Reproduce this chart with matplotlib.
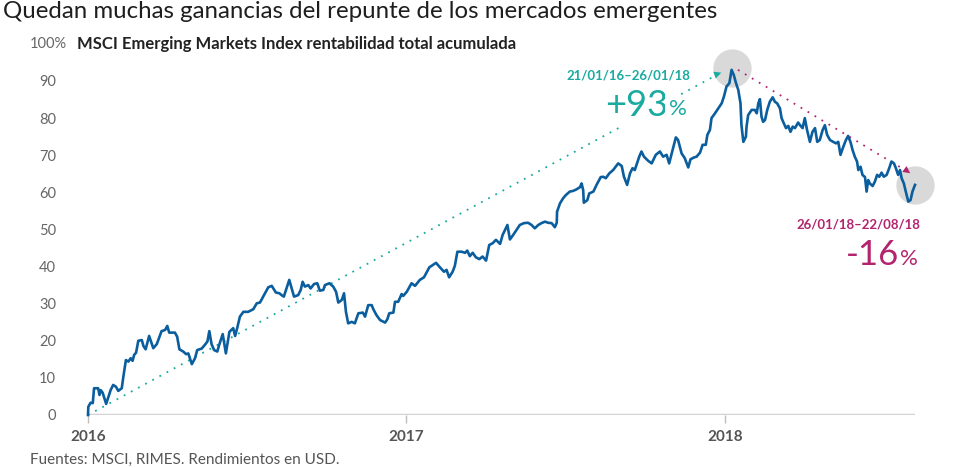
import matplotlib
matplotlib.use('Agg')
import matplotlib.pyplot as plt

plt.rcParams['font.family'] = ['Lato', 'DejaVu Sans']

# MSCI EM cumulative total return (%), x in decimal years
years = [2016.055, 2016.056, 2016.063, 2016.070, 2016.074, 2016.087, 2016.091, 2016.095, 2016.101, 2016.112,
         2016.126, 2016.134, 2016.143, 2016.150, 2016.161, 2016.166, 2016.174, 2016.182, 2016.189, 2016.195,
         2016.200, 2016.206, 2016.213, 2016.224, 2016.229, 2016.236, 2016.247, 2016.253, 2016.260, 2016.271,
         2016.286, 2016.297, 2016.304, 2016.310, 2016.328, 2016.335, 2016.342, 2016.354, 2016.363, 2016.370,
         2016.381, 2016.391, 2016.398, 2016.412, 2016.422, 2016.430, 2016.436, 2016.443, 2016.451, 2016.461,
         2016.467, 2016.478, 2016.488, 2016.499, 2016.511, 2016.517, 2016.524, 2016.532, 2016.543, 2016.558,
         2016.574, 2016.585, 2016.595, 2016.611, 2016.621, 2016.632, 2016.645, 2016.656, 2016.663, 2016.670,
         2016.687, 2016.702, 2016.715, 2016.723, 2016.729, 2016.736, 2016.747, 2016.754, 2016.765, 2016.775,
         2016.783, 2016.794, 2016.799, 2016.813, 2016.825, 2016.834, 2016.841, 2016.852, 2016.859, 2016.865,
         2016.872, 2016.883, 2016.893, 2016.904, 2016.918, 2016.925, 2016.935, 2016.946, 2016.951, 2016.961,
         2016.972, 2016.988, 2016.995, 2017.001, 2017.014, 2017.019, 2017.029, 2017.040, 2017.045, 2017.056,
         2017.071, 2017.082, 2017.097, 2017.110, 2017.127, 2017.134, 2017.148, 2017.160, 2017.173, 2017.181,
         2017.189, 2017.200, 2017.207, 2017.215, 2017.228, 2017.239, 2017.246, 2017.254, 2017.263, 2017.273,
         2017.284, 2017.294, 2017.305, 2017.315, 2017.326, 2017.336, 2017.349, 2017.357, 2017.372, 2017.380,
         2017.390, 2017.401, 2017.411, 2017.424, 2017.437, 2017.448, 2017.458, 2017.469, 2017.479, 2017.490,
         2017.500, 2017.511, 2017.521, 2017.527, 2017.528, 2017.537, 2017.547, 2017.556, 2017.568, 2017.579,
         2017.589, 2017.600, 2017.605, 2017.610, 2017.612, 2017.623, 2017.629, 2017.642, 2017.652, 2017.665,
         2017.673, 2017.681, 2017.692, 2017.704, 2017.720, 2017.731, 2017.738, 2017.748, 2017.757, 2017.765,
         2017.772, 2017.786, 2017.793, 2017.801, 2017.814, 2017.825, 2017.838, 2017.851, 2017.861, 2017.872,
         2017.880, 2017.888, 2017.901, 2017.908, 2017.919, 2017.929, 2017.940, 2017.947, 2017.958, 2017.966,
         2017.977, 2017.985, 2017.995, 2018.000, 2018.008, 2018.013, 2018.024, 2018.034, 2018.045, 2018.052,
         2018.060, 2018.069, 2018.076, 2018.083, 2018.090, 2018.097, 2018.104, 2018.107, 2018.113, 2018.121,
         2018.123, 2018.128, 2018.139, 2018.149, 2018.155, 2018.160, 2018.165, 2018.170, 2018.175, 2018.181,
         2018.188, 2018.196, 2018.205, 2018.212, 2018.219, 2018.228, 2018.233, 2018.240, 2018.247, 2018.254,
         2018.261, 2018.268, 2018.275, 2018.285, 2018.291, 2018.299, 2018.306, 2018.313, 2018.322, 2018.330,
         2018.338, 2018.345, 2018.353, 2018.362, 2018.369, 2018.376, 2018.385, 2018.395, 2018.404, 2018.411,
         2018.418, 2018.427, 2018.435, 2018.442, 2018.450, 2018.456, 2018.463, 2018.470, 2018.474, 2018.481,
         2018.487, 2018.495, 2018.500, 2018.505, 2018.510, 2018.519, 2018.526, 2018.533, 2018.540, 2018.547,
         2018.554, 2018.563, 2018.571, 2018.578, 2018.586, 2018.592, 2018.599, 2018.605, 2018.610, 2018.617,
         2018.623, 2018.631, 2018.638, 2018.644, 2018.652]
values = [0.0, 2.2, 3.3, 3.2, 7.2, 7.2, 5.4, 6.7, 6.0, 3.0,
          6.7, 8.1, 7.6, 6.5, 7.2, 10.3, 14.8, 14.4, 15.3, 14.6,
          16.2, 16.8, 20.0, 20.2, 18.6, 17.7, 21.3, 19.8, 18.0, 19.1,
          22.6, 22.9, 24.0, 22.2, 22.2, 21.1, 17.7, 17.1, 16.4, 16.6,
          13.7, 15.3, 17.5, 17.9, 18.9, 19.8, 22.6, 19.1, 17.5, 17.1,
          18.9, 21.8, 16.6, 22.4, 23.4, 21.3, 23.6, 26.5, 27.8, 27.8,
          28.5, 30.1, 30.3, 32.8, 34.4, 34.8, 33.0, 32.8, 32.3, 31.9,
          36.4, 31.9, 32.3, 33.7, 35.9, 34.6, 35.0, 34.1, 35.3, 35.5,
          33.5, 33.7, 35.0, 35.5, 34.6, 33.2, 30.3, 31.0, 32.8, 27.8,
          24.7, 25.1, 24.7, 27.4, 27.6, 26.5, 29.6, 29.6, 28.5, 26.9,
          25.6, 24.9, 25.8, 27.4, 27.6, 30.5, 30.5, 32.6, 32.1, 33.2,
          35.5, 34.8, 36.4, 37.1, 39.8, 40.2, 41.0, 39.8, 38.6, 39.1,
          37.1, 38.6, 40.2, 44.0, 44.0, 43.7, 44.3, 42.8, 43.7, 42.5,
          42.0, 42.7, 41.6, 45.8, 46.3, 47.2, 46.1, 48.5, 51.2, 47.3,
          48.5, 49.9, 51.2, 51.7, 51.8, 51.2, 50.3, 51.2, 51.7, 52.1,
          51.8, 51.7, 50.6, 51.8, 54.8, 57.0, 58.4, 59.3, 60.2, 60.4,
          60.8, 61.4, 62.4, 60.6, 57.2, 57.9, 59.7, 60.2, 62.0, 64.1,
          64.2, 63.8, 65.1, 66.0, 67.8, 67.1, 64.2, 62.0, 65.1, 66.5,
          66.0, 69.6, 71.0, 69.6, 68.5, 67.8, 70.1, 71.0, 69.6, 70.1,
          67.8, 70.5, 74.8, 74.1, 70.5, 69.2, 66.7, 68.9, 69.4, 69.6,
          70.7, 72.8, 72.8, 75.5, 76.8, 80.0, 81.3, 82.6, 84.0, 85.8,
          88.5, 89.4, 93.0, 91.6, 89.4, 87.6, 84.0, 78.1, 73.6, 75.0,
          77.7, 80.8, 82.2, 82.2, 81.3, 84.0, 85.1, 80.4, 79.0, 79.5,
          82.2, 84.4, 85.6, 84.4, 84.0, 82.6, 80.0, 78.6, 77.3, 77.9,
          76.3, 77.7, 77.3, 78.8, 78.1, 77.3, 80.0, 76.8, 73.6, 76.3,
          77.3, 73.6, 74.1, 76.8, 78.1, 75.5, 74.1, 73.6, 73.2, 73.6,
          70.1, 72.3, 74.1, 75.2, 73.4, 71.4, 69.6, 68.3, 66.0, 66.9,
          64.7, 64.1, 60.2, 63.3, 62.4, 61.7, 62.9, 64.7, 64.2, 65.3,
          64.2, 64.7, 66.5, 68.3, 67.8, 66.5, 64.7, 66.0, 63.8, 62.4,
          60.2, 57.5, 57.9, 60.2, 62.0]

tick_pos = [2016.055, 2017.055, 2018.055]
tick_labels = ['2016', '2017', '2018']
y_ticks = [0, 10, 20, 30, 40, 50, 60, 70, 80, 90]

blue = '#0b5e9e'
teal = '#19aaa0'
magenta = '#b3246e'
grey_txt = '#666666'

fig = plt.figure(figsize=(9.6, 4.68), dpi=100)
ax = fig.add_axes([88/960, 53/468, 827/960, 0.7930])
ax.set_xlim(2016.055, 2018.652)
ax.set_ylim(0, 100)

peak = values.index(max(values))

# grey circles at peak and end
ax.scatter([years[peak], years[-1]], [values[peak] + 0.6, values[-1]], s=760,
           color='#d9d9d9', zorder=1, clip_on=False, linewidths=0)

# baseline
ax.axhline(0, color='#d4d4d4', lw=2.5, zorder=1)

# dotted guides
ax.plot([years[0], years[peak] - 0.03], [values[0], values[peak] - 0.6],
        color=teal, lw=1.3, ls=(0, (1, 3.5)), zorder=2, clip_on=False)
ax.annotate('', xy=(years[peak] - 0.024, values[peak] - 0.5),
            xytext=(years[peak] - 0.05, values[peak] - 1.3),
            arrowprops=dict(arrowstyle='-|>', color=teal, lw=0, mutation_scale=13),
            zorder=3, annotation_clip=False)
ax.plot([years[peak] + 0.02, years[-1] - 0.02], [values[peak], values[-1] + 3.4],
        color=magenta, lw=1.3, ls=(0, (1, 3.5)), zorder=2, clip_on=False)
ax.annotate('', xy=(years[-1] - 0.008, values[-1] + 2.7),
            xytext=(years[-1] - 0.035, values[-1] + 4.4),
            arrowprops=dict(arrowstyle='-|>', color=magenta, lw=0, mutation_scale=13),
            zorder=3, annotation_clip=False)

ax.plot(years, values, color=blue, lw=1.9, zorder=4, clip_on=False)

# axes styling
for s in ax.spines.values():
    s.set_visible(False)
ax.set_yticks(y_ticks)
ax.set_yticklabels([str(v) for v in y_ticks])
ax.tick_params(axis='y', length=0, pad=23, labelsize=10.5, labelcolor=grey_txt)
ax.set_xticks(tick_pos)
ax.set_xticklabels(tick_labels, fontweight='bold')
ax.tick_params(axis='x', length=6, width=1, color='#bdbdbd', pad=5, labelsize=11,
               labelcolor='#555555')

# texts in figure pixels
def fx(x):
    return x / 960

def fy(y):
    return 1 - y / 468

fig.text(fx(3), fy(12), 'Quedan muchas ganancias del repunte de los mercados emergentes',
         fontsize=17.3, color='#1e1e1e', va='center', ha='left')
fig.text(fx(30), fy(44), '100%', fontsize=10.5, color=grey_txt, va='center', ha='left')
fig.text(fx(77), fy(44), 'MSCI Emerging Markets Index rentabilidad total acumulada',
         fontsize=12, color='#222222', fontweight='bold', va='center', ha='left')
fig.text(fx(30), fy(460), 'Fuentes: MSCI, RIMES. Rendimientos en USD.',
         fontsize=11, color='#555555', va='center', ha='left')

fig.text(fx(690), fy(76), '21/01/16\u201326/01/18', fontsize=9.5, color=teal,
         fontweight='bold', va='center', ha='right')
fig.text(fx(668), fy(105), '+93', fontsize=26, color=teal, va='center', ha='right',
         bbox=dict(facecolor='white', edgecolor='none', pad=4), zorder=5)
fig.text(fx(669), fy(109), '%', fontsize=16, color=teal, va='center', ha='left',
         bbox=dict(facecolor='white', edgecolor='none', pad=3), zorder=5)

fig.text(fx(920), fy(224), '26/01/18\u201322/08/18', fontsize=9.5, color=magenta,
         fontweight='bold', va='center', ha='right')
fig.text(fx(899), fy(255), '-16', fontsize=25, color=magenta, va='center', ha='right')
fig.text(fx(900), fy(259), '%', fontsize=16, color=magenta, va='center', ha='left')

fig.savefig('out.png', dpi=100, facecolor='white')
